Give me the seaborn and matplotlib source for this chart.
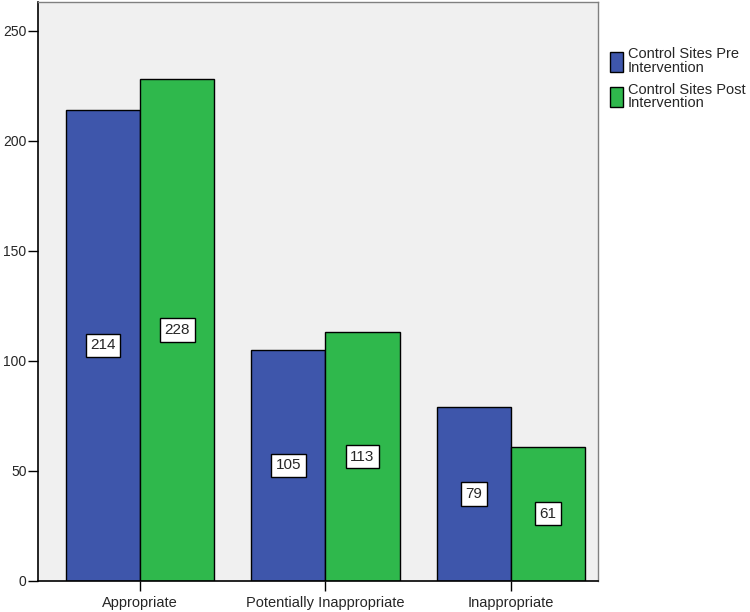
import numpy as np
import pandas as pd
import matplotlib
matplotlib.use("Agg")
import matplotlib.pyplot as plt
import seaborn as sns

# === data ===
categories = ["Appropriate", "Potentially Inappropriate", "Inappropriate"]
series = ["Control Sites Pre\nIntervention", "Control Sites Post\nIntervention"]
pre_values = [214, 105, 79]
post_values = [228, 113, 61]
colors = ["#3e56ab", "#2fb84c"]

df = pd.DataFrame({
    "category": categories * 2,
    "group": [series[0]] * 3 + [series[1]] * 3,
    "count": pre_values + post_values,
})

sns.set_style("white")
plt.rcParams["font.family"] = ["Liberation Sans", "DejaVu Sans"]

fig = plt.figure(figsize=(7.5, 6.12), dpi=100)
ax = fig.add_axes([0.051, 0.0507, 0.746, 0.946])
ax.set_facecolor("#f0f0f0")

sns.barplot(data=df, x="category", y="count", hue="group", order=categories,
            hue_order=series, palette=colors, width=0.8, edgecolor="black",
            linewidth=1.0, saturation=1, ax=ax)

# value labels in the middle of each bar
for cont in ax.containers:
    for bar in cont:
        h = bar.get_height()
        ax.text(bar.get_x() + bar.get_width() / 2, h / 2, f"{int(h)}",
                ha="center", va="center", fontsize=11,
                bbox=dict(boxstyle="square,pad=0.3", fc="white", ec="black", lw=1))

ax.set_xlim(-0.55, 2.47)
ax.set_ylim(0, 263)
ax.set_yticks([0, 50, 100, 150, 200, 250])
ax.set_xlabel("")
ax.set_ylabel("")
ax.tick_params(axis="both", direction="out", length=7, width=1, color="black",
               labelsize=10, pad=1.5, bottom=True, left=True)
ax.tick_params(axis="x", pad=4, labelsize=10.5)

for side in ["left", "bottom"]:
    ax.spines[side].set_color("black")
    ax.spines[side].set_linewidth(1.2)
for side in ["top", "right"]:
    ax.spines[side].set_color("#808080")
    ax.spines[side].set_linewidth(1.0)

leg = ax.legend(loc="upper left", bbox_to_anchor=(1.012, 0.932), frameon=False,
                fontsize=10.5, handlelength=0.9, handleheight=1.7,
                handletextpad=0.3, labelspacing=0.55, borderaxespad=0)
for txt in leg.get_texts():
    txt.set_linespacing(0.95)

fig.savefig("out.png", dpi=100)
